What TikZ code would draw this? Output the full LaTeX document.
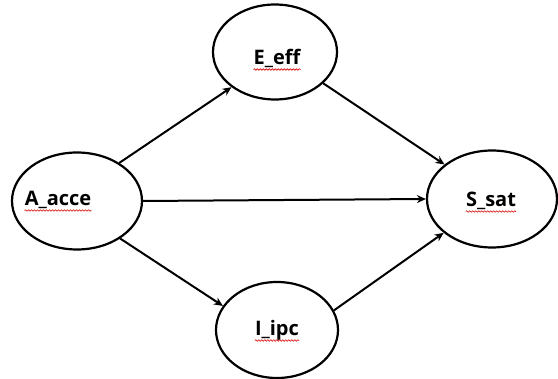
\documentclass[tikz,border=0pt]{standalone}
\usepackage{fontspec}
\setmainfont{Open Sans}
\usetikzlibrary{shapes.geometric,arrows.meta,decorations.pathmorphing}
\tikzset{
  var/.style={draw=black, line width=2.2pt, ellipse, inner sep=0pt},
  vlabel/.style={font=\fontsize{20}{24}\selectfont\bfseries, inner sep=0pt, anchor=base},
  link/.style={line width=2pt, -{Stealth[length=9pt,width=8pt]}},
  squiggle/.style={draw=red!85!black, line width=0.6pt,
    decorate, decoration={snake, amplitude=0.8pt, segment length=3pt}}
}
\begin{document}
\begin{tikzpicture}[x=1pt,y=-1pt]
  \useasboundingbox (0,0) rectangle (558,379);
  % latent variables
  \node[var, minimum width=130pt, minimum height=97pt] (A) at (77,201) {};
  \node[var, minimum width=124pt, minimum height=95pt] (E) at (275,52) {};
  \node[var, minimum width=130pt, minimum height=97pt] (S) at (492,199) {};
  \node[var, minimum width=122pt, minimum height=96pt] (I) at (277,330) {};
  % variable names
  \node[vlabel] (At) at (58,206) {A\_acce};
  \node[vlabel] (Et) at (277,65) {E\_eff};
  \node[vlabel] (St) at (491,207) {S\_sat};
  \node[vlabel] (It) at (277,336) {I\_ipc};
  % spell-check marks under the names
  \foreach \t in {At,Et,St,It}
    \draw[squiggle] ([yshift=-4.5pt]\t.base west) -- ([yshift=-4.5pt]\t.base east);
  % paths
  \draw[link] (A.42) -- (E.219);
  \draw[link] (A.east) -- (S.west);
  \draw[link] (A.-41) -- (I.156);
  \draw[link] (E.-33) -- (S.144);
  \draw[link] (I.19) -- (S.215);
\end{tikzpicture}
\end{document}
